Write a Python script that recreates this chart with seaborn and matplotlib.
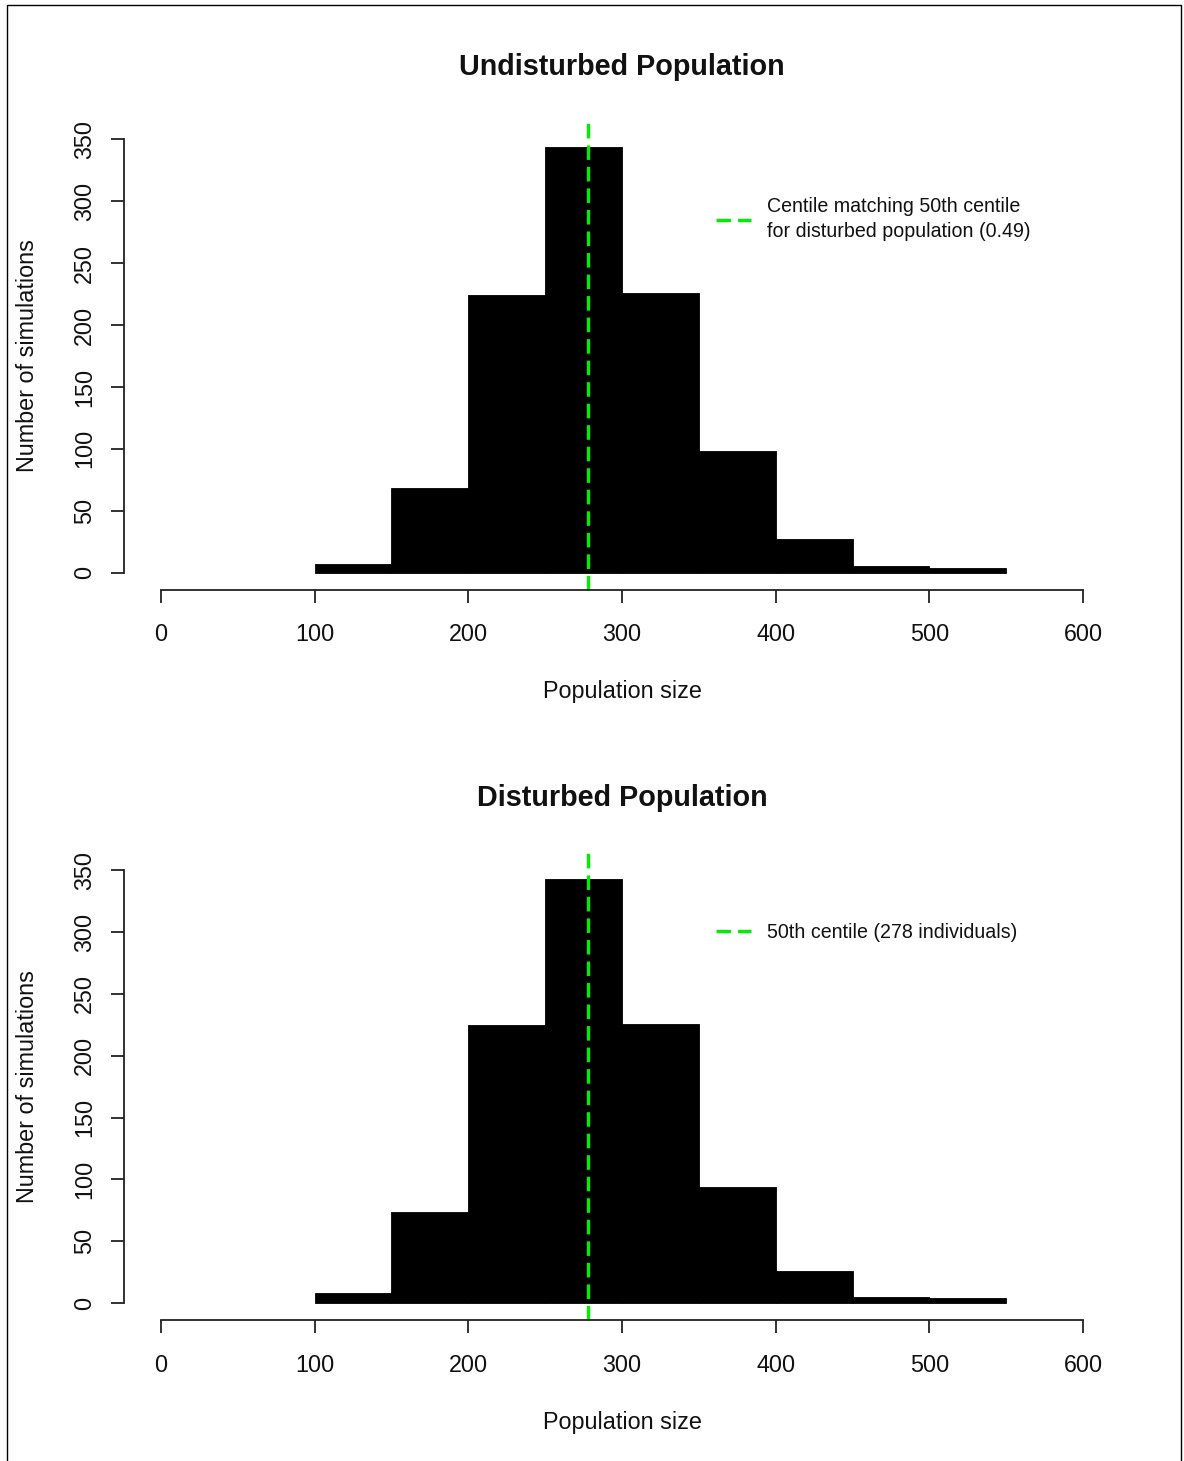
import numpy as np
import pandas as pd
import matplotlib
matplotlib.use("Agg")
import matplotlib.pyplot as plt
from matplotlib.lines import Line2D
from matplotlib.patches import Rectangle
import seaborn as sns

# ---- data ----
bin_edges = [100, 150, 200, 250, 300, 350, 400, 450, 500, 550]
undisturbed_counts = [7, 68, 224, 344, 226, 98, 27, 5, 4]
disturbed_counts = [8, 74, 225, 343, 226, 94, 26, 5, 4]
median_value = 278
titles = ["Undisturbed Population", "Disturbed Population"]
legend_labels = ["Centile matching 50th centile\nfor disturbed population (0.49)",
                 "50th centile (278 individuals)"]
x_ticks = [0, 100, 200, 300, 400, 500, 600]
y_ticks = [0, 50, 100, 150, 200, 250, 300, 350]

sns.set_style("white")
plt.rcParams['font.family'] = ['Liberation Sans', 'DejaVu Sans']
plt.rcParams['lines.scale_dashes'] = False

W, H = 1184, 1461
fig = plt.figure(figsize=(W / 100, H / 100), dpi=100)

# frame around the whole picture (screenshot border)
fig.patches.append(Rectangle((7 / W, -0.01), (1181 - 7) / W, 1 - 5 / H + 0.01,
                             transform=fig.transFigure, fill=False,
                             edgecolor='black', linewidth=1.0))

# axes positions (pixels) : left, right, top, bottom of plot region
panels = [(124, 1120, 122, 590), (124, 1120, 853, 1320.3)]
legend_y = [219, 932]
xlabel_y = [692, 1422]
title_ys = [67, 798]
datasets = [undisturbed_counts, disturbed_counts]
GREEN = '#00EE00'

for i in range(2):
    l, r, t, b = panels[i]
    ax = fig.add_axes([l / W, 1 - b / H, (r - l) / W, (b - t) / H])
    edges = np.array(bin_edges, dtype=float)
    mids = (edges[:-1] + edges[1:]) / 2
    df = pd.DataFrame({"size": mids, "n": datasets[i]})
    sns.histplot(data=df, x="size", weights="n", bins=bin_edges, ax=ax,
                 color='black', alpha=1, edgecolor='black', linewidth=0.6)
    ax.set_xlim(-24, 624)
    ax.set_ylim(-14, 364)

    ax.axvline(median_value, color=GREEN, lw=2.4, dashes=(10.5, 5.0))

    for side in ['top', 'right']:
        ax.spines[side].set_visible(False)
    ax.spines['left'].set_bounds(0, 350)
    ax.spines['bottom'].set_bounds(0, 600)
    for side in ['left', 'bottom']:
        ax.spines[side].set_linewidth(1.3)
        ax.spines[side].set_color('#222222')

    ax.set_xticks(x_ticks)
    ax.set_yticks(y_ticks)
    ax.tick_params(axis='both', which='major', direction='out', length=9.5,
                   width=1.3, color='#222222', labelsize=16.8,
                   labelcolor='#111111', bottom=True, left=True)
    ax.tick_params(axis='x', pad=14.5)
    ax.tick_params(axis='y', pad=10.5, labelrotation=90)
    for lbl in ax.get_yticklabels():
        lbl.set_va('center')
        lbl.set_ha('right')

    ax.set_xlabel("Population size", fontsize=16.8, color='#111111',
                  va='center', ha='center')
    ax.xaxis.set_label_coords(0.5, -(xlabel_y[i] - b) / (b - t))
    ax.set_ylabel("Number of simulations", fontsize=16.8, color='#111111',
                  va='center', ha='center')
    ax.yaxis.set_label_coords(-(124 - 28) / (r - l), 0.5)

    ax.set_title(titles[i], fontsize=20.7, fontweight='bold', color='#111111',
                 y=1 + (t - title_ys[i]) / (b - t), va='center', pad=0)

    handle = Line2D([0], [0], color=GREEN, lw=2.4, dashes=(10.5, 5.0))
    leg = ax.legend([handle], [legend_labels[i]], loc='center left',
                    bbox_to_anchor=(716 / W, 1 - legend_y[i] / H),
                    bbox_transform=fig.transFigure, frameon=False,
                    fontsize=14.1, handlelength=1.8, handletextpad=0.8,
                    borderpad=0, borderaxespad=0, labelcolor='#111111')
    for txt in leg.get_texts():
        txt.set_linespacing(1.45)

fig.savefig("out.png", dpi=100)
